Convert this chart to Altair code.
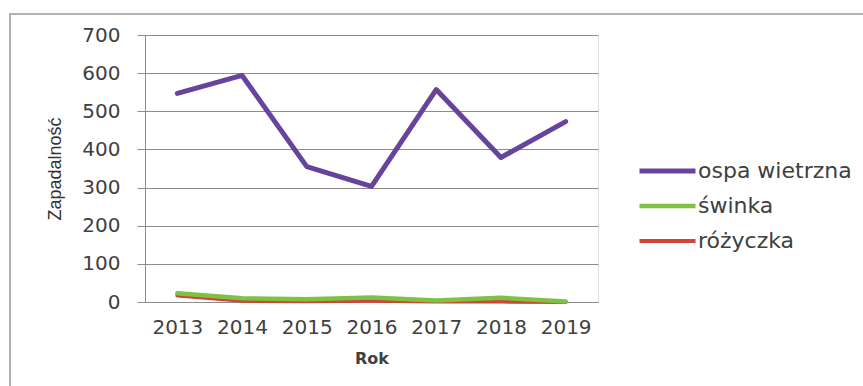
import altair as alt
import pandas as pd

years = ["2013", "2014", "2015", "2016", "2017", "2018", "2019"]
ospa = [547, 594, 355, 303, 557, 379, 473]
swinka = [23, 10, 7, 12, 4, 11, 1]
rozyczka = [17, 3, 2, 3, 1, 1, 0]
series = ["ospa wietrzna", "świnka", "różyczka"]
colors = ["#66449E", "#7DC242", "#D0443A"]
widths = [5, 4, 4]
y_ticks = [0, 100, 200, 300, 400, 500, 600, 700]

rows = []
for name, vals in [("różyczka", rozyczka), ("świnka", swinka), ("ospa wietrzna", ospa)]:
    for yr, v in zip(years, vals):
        rows.append({"Rok": yr, "Zapadalność": v, "seria": name})
df = pd.DataFrame(rows)

txt = "#404040"
grid = "#8c8c8c"

lines = alt.Chart(df).mark_line(strokeCap="round", strokeJoin="round").encode(
    x=alt.X("Rok:O", sort=years, title="Rok",
            scale=alt.Scale(padding=0.5),
            axis=alt.Axis(labelAngle=0, ticks=False, tickSize=0, domain=True,
                          domainColor=grid, labelFont="DejaVu Sans", labelFontSize=20,
                          labelColor=txt, labelPadding=25, labelBaseline="middle",
                          titleFont="DejaVu Sans", titleFontSize=16, titleFontWeight="bold",
                          titleColor=txt, titleY=56, titleBaseline="middle")),
    y=alt.Y("Zapadalność:Q", title="Zapadalność",
            scale=alt.Scale(domain=[0, 700], nice=False),
            axis=alt.Axis(values=y_ticks, grid=True, gridColor=grid, gridWidth=1,
                          domainColor=grid, tickColor=grid, tickSize=8,
                          labelFont="DejaVu Sans", labelFontSize=20, labelColor=txt,
                          labelPadding=17,
                          titleFont="Liberation Sans", titleFontSize=18,
                          titleFontWeight="normal", titleColor="#333333",
                          titleX=-90, titleY=133.5, titleAngle=270,
                          titleAlign="center", titleBaseline="middle")),
    color=alt.Color("seria:N", scale=alt.Scale(domain=series, range=colors),
                    legend=alt.Legend(title=None, orient="none", legendX=492, legendY=118.5,
                                      symbolType="stroke", symbolSize=3136,
                                      symbolStrokeWidth=4, labelFont="DejaVu Sans",
                                      labelFontSize=22, labelColor=txt, labelOffset=0,
                                      clipHeight=35, rowPadding=0)),
    strokeWidth=alt.StrokeWidth("seria:N", scale=alt.Scale(domain=series, range=widths),
                                legend=None),
)

border = alt.Chart(pd.DataFrame({"b": [0]})).mark_rect(
    filled=False, stroke="#9a9a9a", strokeWidth=1.5
).encode(x=alt.value(-135), x2=alt.value(900), y=alt.value(-21), y2=alt.value(500))

chart = alt.layer(border, lines).properties(
    width=453, height=267,
    autosize=alt.AutoSizeParams(type="none"),
    padding={"left": 145, "top": 35, "right": 265, "bottom": 84},
).configure_view(stroke=None).configure(background="white")

chart.save("out.html", embed_options={"renderer": "svg", "actions": False})
